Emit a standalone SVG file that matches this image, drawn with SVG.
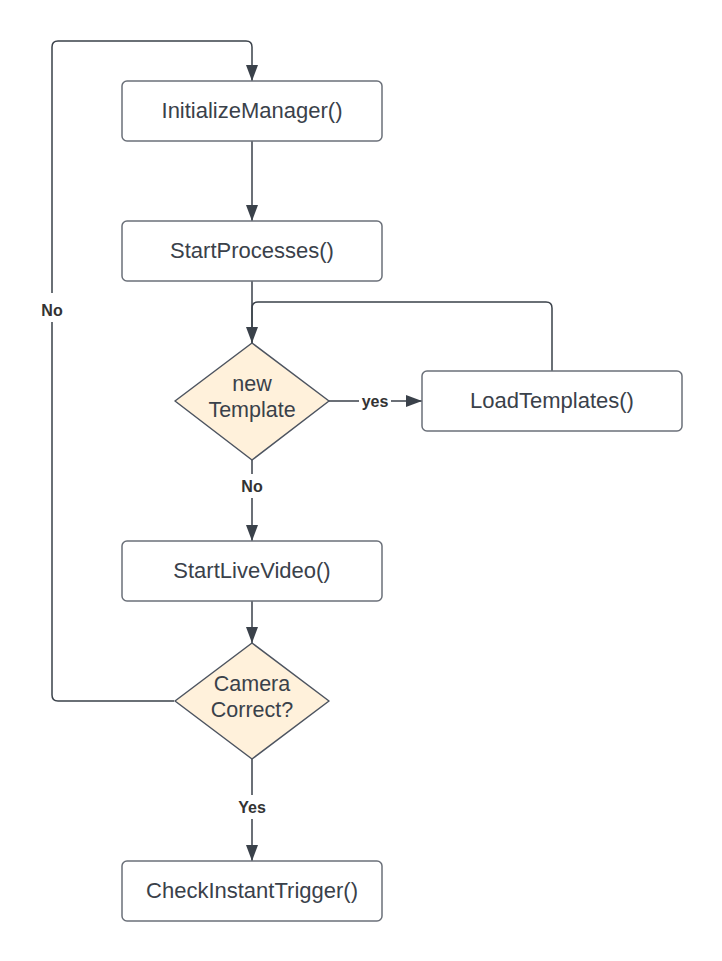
<svg xmlns="http://www.w3.org/2000/svg" width="722" height="961" viewBox="0 0 722 961">
<defs>
<marker id="arrow" markerUnits="userSpaceOnUse" markerWidth="16" markerHeight="12" refX="16" refY="6" orient="auto">
<path d="M0,0 L16,6 L0,12 Z" fill="#3a414a"/>
</marker>
<style>
.box{fill:#ffffff;stroke:#6b7079;stroke-width:1.5}
.dia{fill:#fff1db;stroke:#4d5460;stroke-width:1.5;stroke-linejoin:round}
.txt{font-family:"Liberation Sans",Arial,sans-serif;font-size:22px;fill:#3a414a;text-anchor:middle}
.dtxt{font-family:"Liberation Sans",Arial,sans-serif;font-size:21.5px;fill:#3a414a;text-anchor:middle}
.lbl{font-family:"Liberation Sans",Arial,sans-serif;font-size:16px;font-weight:bold;fill:#333333;text-anchor:middle}
.con{fill:none;stroke:#3a414a;stroke-width:1.5;stroke-linejoin:round}
</style>
</defs>
<rect width="722" height="961" fill="#ffffff"/>
<g id="connectors">
<path class="con" d="M174,701 H58 Q52,701 52,695 V322"/>
<path class="con" d="M52,293 V47 Q52,41 58,41 H246 Q252,41 252,47 V81" marker-end="url(#arrow)"/>
<path class="con" d="M252,141 V221" marker-end="url(#arrow)"/>
<path class="con" d="M252,281 V343" marker-end="url(#arrow)"/>
<path class="con" d="M552,371 V308 Q552,302 546,302 H258 Q252,302 252,308 V343"/>
<path class="con" d="M329,401 H359"/>
<path class="con" d="M391,401 H422" marker-end="url(#arrow)"/>
<path class="con" d="M252,460 V474"/>
<path class="con" d="M252,498 V541" marker-end="url(#arrow)"/>
<path class="con" d="M252,601 V643" marker-end="url(#arrow)"/>
<path class="con" d="M252,759 V795"/>
<path class="con" d="M252,819 V861" marker-end="url(#arrow)"/>
<text class="lbl" x="52" y="316">No</text>
<text class="lbl" x="375" y="407">yes</text>
<text class="lbl" x="252" y="492">No</text>
<text class="lbl" x="252" y="813">Yes</text>
</g>
<g id="initializeManager">
<rect class="box" x="122" y="81" width="260" height="60" rx="5"/>
<text class="txt" x="252" y="118">InitializeManager()</text>
</g>
<g id="startProcesses">
<rect class="box" x="122" y="221" width="260" height="60" rx="5"/>
<text class="txt" x="252" y="258">StartProcesses()</text>
</g>
<g id="newTemplate">
<path class="dia" d="M252,343 L329,401 L252,460 L175,401 Z"/>
<text class="dtxt" x="252" y="391">new</text>
<text class="dtxt" x="252" y="417">Template</text>
</g>
<g id="loadTemplates">
<rect class="box" x="422" y="371" width="260" height="60" rx="5"/>
<text class="txt" x="552" y="408">LoadTemplates()</text>
</g>
<g id="startLiveVideo">
<rect class="box" x="122" y="541" width="260" height="60" rx="5"/>
<text class="txt" x="252" y="578">StartLiveVideo()</text>
</g>
<g id="cameraCorrect">
<path class="dia" d="M252,643 L329,701 L252,759 L175,701 Z"/>
<text class="dtxt" x="252" y="691">Camera</text>
<text class="dtxt" x="252" y="717">Correct?</text>
</g>
<g id="checkInstantTrigger">
<rect class="box" x="122" y="861" width="260" height="60" rx="5"/>
<text class="txt" x="252" y="898">CheckInstantTrigger()</text>
</g>
</svg>
